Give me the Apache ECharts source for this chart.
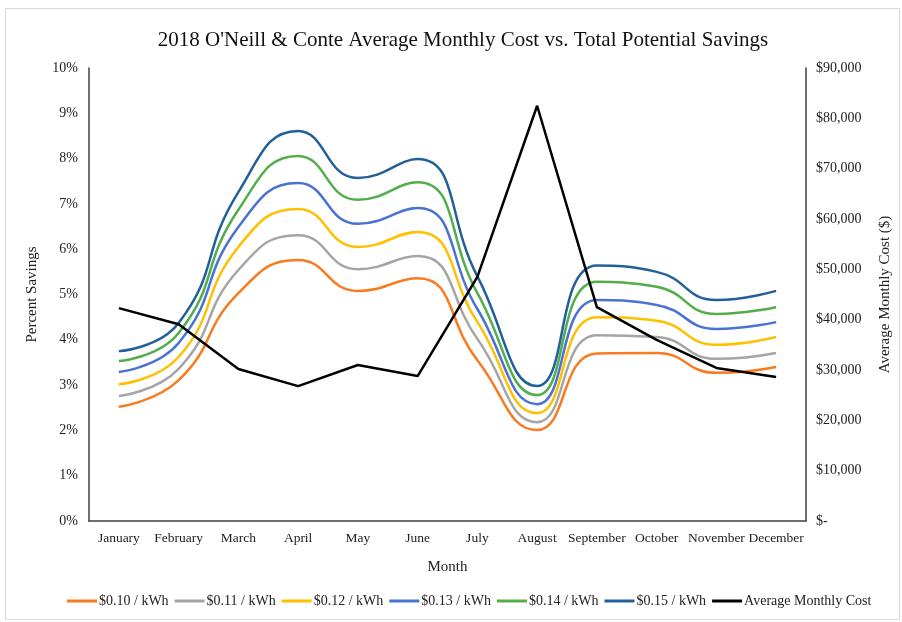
<!DOCTYPE html>
<html>
<head>
<meta charset="utf-8">
<script src="https://cdn.jsdelivr.net/npm/echarts@6/dist/echarts.min.js"></script>
<style>
  html, body { margin: 0; padding: 0; background: #fff; }
  #chart { width: 902px; height: 622px; }
</style>
</head>
<body>
<div id="chart"></div>
<script>
// Months on the category axis
const months = ['January', 'February', 'March', 'April', 'May', 'June',
  'July', 'August', 'September', 'October', 'November', 'December'];

// Potential savings (%) at each electricity rate
const rate010 = [2.52, 3.11, 5.03, 5.76, 5.08, 5.36, 3.55, 2.01, 3.70, 3.71, 3.27, 3.40];
const rate011 = [2.76, 3.36, 5.54, 6.31, 5.56, 5.85, 4.02, 2.18, 4.10, 4.06, 3.58, 3.71];
const rate012 = [3.02, 3.62, 6.05, 6.89, 6.05, 6.38, 4.39, 2.38, 4.50, 4.42, 3.89, 4.06];
const rate013 = [3.29, 3.93, 6.49, 7.46, 6.56, 6.91, 4.68, 2.58, 4.88, 4.77, 4.24, 4.39];
const rate014 = [3.53, 4.15, 6.87, 8.06, 7.09, 7.48, 5.03, 2.78, 5.28, 5.17, 4.57, 4.72];
const rate015 = [3.75, 4.37, 7.26, 8.61, 7.57, 7.99, 5.40, 2.98, 5.64, 5.50, 4.88, 5.08];

// Average monthly cost ($)
const avgCost = [42300, 39100, 30200, 26800, 31000, 28800, 48500, 82500, 42500, 36000, 30400, 28600];

// Axis tick values
const pctTicks = { min: 0, max: 10, step: 1 };
const costTicks = { min: 0, max: 90000, step: 10000 };

const serif = '"Liberation Serif", "Times New Roman", serif';
const textColor = '#222';

const rateSeries = [
  { name: '$0.10 / kWh', data: rate010, color: '#F97A1F' },
  { name: '$0.11 / kWh', data: rate011, color: '#A5A5A5' },
  { name: '$0.12 / kWh', data: rate012, color: '#FFC000' },
  { name: '$0.13 / kWh', data: rate013, color: '#4A72D2' },
  { name: '$0.14 / kWh', data: rate014, color: '#52AE4A' },
  { name: '$0.15 / kWh', data: rate015, color: '#22609A' }
];

const series = rateSeries.map(s => ({
  name: s.name,
  type: 'line',
  yAxisIndex: 0,
  data: s.data,
  smooth: 0.5,
  symbol: 'none',
  itemStyle: { color: s.color },
  lineStyle: { color: s.color, width: 2.5 },
  z: 2
}));

series.push({
  name: 'Average Monthly Cost',
  type: 'line',
  yAxisIndex: 1,
  data: avgCost,
  symbol: 'none',
  itemStyle: { color: '#000' },
  lineStyle: { color: '#000', width: 2.5 },
  z: 3
});

function fmtCost(v) {
  if (v === 0) return '$-';
  return '$' + v.toLocaleString('en-US');
}

const chart = echarts.init(document.getElementById('chart'), null, { renderer: 'canvas' });

chart.setOption({
  animation: false,
  backgroundColor: '#fff',
  textStyle: { fontFamily: serif },
  graphic: [{
    type: 'rect',
    shape: { x: 5.5, y: 8.5, width: 894, height: 611 },
    style: { fill: 'none', stroke: '#d9d9d9', lineWidth: 1 },
    silent: true
  }],
  title: {
    text: "2018 O'Neill & Conte Average Monthly Cost vs. Total Potential Savings",
    left: 458,
    textAlign: 'center',
    top: 25,
    textStyle: { fontFamily: serif, fontSize: 21, fontWeight: 'normal', color: '#111' }
  },
  legend: {
    bottom: 9,
    left: 62,
    icon: 'rect',
    itemWidth: 30,
    itemHeight: 3,
    itemGap: 6,
    textStyle: { fontFamily: serif, fontSize: 14, color: textColor, padding: [0, 0, 0, -3] },
    data: series.map(s => s.name)
  },
  grid: { left: 89, right: 96, top: 68, bottom: 101, containLabel: false, outerBoundsMode: 'none' },
  xAxis: {
    type: 'category',
    data: months,
    boundaryGap: true,
    name: 'Month',
    nameLocation: 'middle',
    nameGap: 39,
    nameTextStyle: { fontFamily: serif, fontSize: 15, color: textColor },
    axisLine: { lineStyle: { color: '#404040', width: 1.5 } },
    axisTick: { show: false },
    axisLabel: { fontFamily: serif, fontSize: 13.5, color: textColor, margin: 10, interval: 0 }
  },
  yAxis: [{
    type: 'value',
    min: pctTicks.min,
    max: pctTicks.max,
    interval: pctTicks.step,
    name: 'Percent Savings',
    nameLocation: 'middle',
    nameGap: 49,
    nameMoveOverlap: false,
    nameTextStyle: { fontFamily: serif, fontSize: 15, color: textColor },
    axisLine: { show: true, lineStyle: { color: '#404040', width: 1.5 } },
    axisTick: { show: false },
    splitLine: { show: false },
    axisLabel: { fontFamily: serif, fontSize: 14, color: textColor, margin: 11, formatter: v => v + '%' }
  }, {
    type: 'value',
    position: 'right',
    min: costTicks.min,
    max: costTicks.max,
    interval: costTicks.step,
    name: 'Average Monthly Cost ($)',
    nameLocation: 'middle',
    nameGap: 72,
    nameRotate: 90,
    nameTextStyle: { fontFamily: serif, fontSize: 15, color: textColor },
    axisLine: { show: true, lineStyle: { color: '#404040', width: 1.5 } },
    axisTick: { show: false },
    splitLine: { show: false },
    axisLabel: { fontFamily: serif, fontSize: 14, color: textColor, margin: 10, formatter: fmtCost }
  }],
  series: series
});
</script>
</body>
</html>
